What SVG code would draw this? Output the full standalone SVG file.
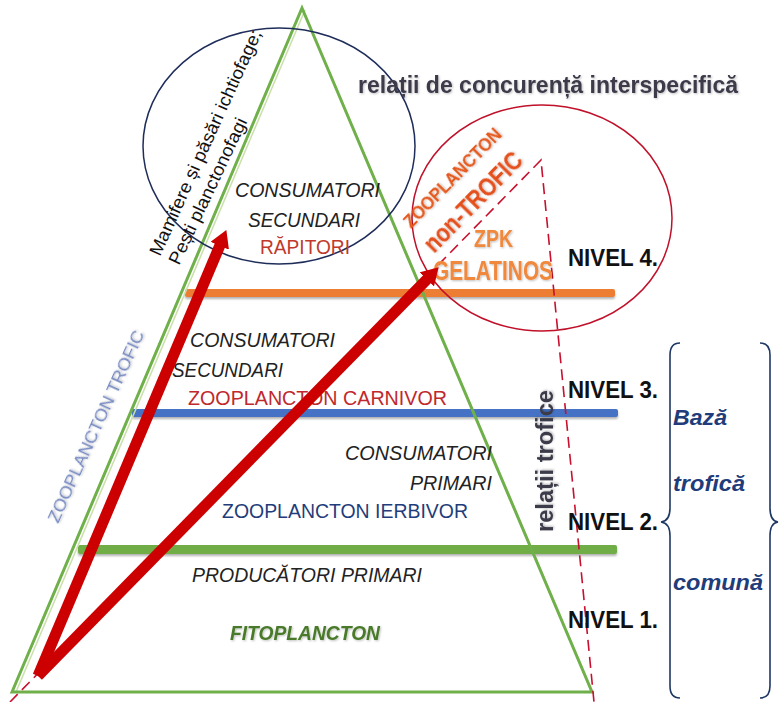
<svg xmlns="http://www.w3.org/2000/svg" width="779" height="702" viewBox="0 0 779 702">
<style>
.t{font-family:"Liberation Sans",Arial,sans-serif}
.it{font-style:italic;fill:#222}
.nv{font-weight:bold;fill:#111;font-size:24px}
.bz{font-weight:bold;font-style:italic;fill:#1f3d7a;font-size:22px}
.bar{filter:url(#sh)}
.arr{stroke:#cc0000;stroke-width:11;fill:none;marker-end:url(#ah)}
</style>
<defs>
<filter id="sh" x="-5%" y="-50%" width="110%" height="250%">
<feDropShadow dx="0" dy="2" stdDeviation="1.2" flood-color="#000" flood-opacity="0.3"/>
</filter>
<filter id="tsh" x="-5%" y="-20%" width="110%" height="150%">
<feDropShadow dx="1" dy="1" stdDeviation="0.8" flood-color="#000" flood-opacity="0.25"/>
</filter>
<marker id="ah" viewBox="0 0 17 20" refX="4" refY="10" markerWidth="17" markerHeight="20" markerUnits="userSpaceOnUse" orient="auto">
<path d="M0,0 L17,10 L0,20 z" fill="#cc0000"/>
</marker>
</defs>
<rect width="779" height="702" fill="#fff"/>

<g id="bars">
<rect class="bar" x="185" y="289" width="430" height="8" rx="2" fill="#ed7d31"/>
<rect class="bar" x="132" y="409" width="486" height="8" rx="2" fill="#4472c4"/>
<rect class="bar" x="78" y="545" width="539" height="9" rx="2" fill="#70ad47"/>
</g>

<g id="pyramid">
<path d="M16,692 L305,10" stroke="#c9e0a8" stroke-width="1.5" fill="none"/>
<path d="M12,692 L302,8 L592,692 Z" stroke="#6fb04a" stroke-width="3" fill="none" stroke-linejoin="miter"/>
</g>

<g id="trophic-dashed">
<path d="M10,702 L541,160 L594,702" stroke="#c8102e" stroke-width="1.6" stroke-dasharray="11,6" fill="none"/>
</g>

<g id="ellipse-predators">
<ellipse cx="279" cy="146" rx="136" ry="118" fill="none" stroke="#1f2d5a" stroke-width="1.5"/>
</g>
<g id="ellipse-gelatinous">
<ellipse cx="542" cy="218" rx="130" ry="113" fill="none" stroke="#c0102a" stroke-width="1.5"/>
</g>

<g id="title" class="t">
<text x="358" y="93" font-size="24" font-weight="bold" fill="#3d3a4a" textLength="380" lengthAdjust="spacingAndGlyphs" filter="url(#tsh)">relații de concurență interspecifică</text>
</g>

<g id="predators-label" class="t" font-size="18" fill="#111">
<text transform="translate(160,257) rotate(-65.5)" textLength="246" lengthAdjust="spacingAndGlyphs">Mamifere și păsări ichtiofage;</text>
<text transform="translate(179,266) rotate(-64.6)" textLength="160" lengthAdjust="spacingAndGlyphs">Pești planctonofagi</text>
</g>

<g id="level4" class="t" font-size="20">
<text class="it" x="235" y="197" textLength="145" lengthAdjust="spacingAndGlyphs">CONSUMATORI</text>
<text class="it" x="248" y="227" textLength="112" lengthAdjust="spacingAndGlyphs">SECUNDARI</text>
<text x="260" y="254" fill="#c0392b" textLength="90" lengthAdjust="spacingAndGlyphs">RĂPITORI</text>
</g>

<g id="zpk" class="t" font-weight="bold">
<text transform="translate(411,229) rotate(-45.5)" font-size="18" fill="#e4581c" textLength="131" lengthAdjust="spacingAndGlyphs" filter="url(#tsh)">ZOOPLANCTON</text>
<text transform="translate(434,254) rotate(-45.5)" font-size="25" fill="#e4501c" textLength="129" lengthAdjust="spacingAndGlyphs" filter="url(#tsh)">non-TROFIC</text>
<text x="474" y="247" font-size="24" fill="#f0883c" textLength="39" lengthAdjust="spacingAndGlyphs" filter="url(#tsh)">ZPK</text>
<text x="433" y="280" font-size="27" fill="#f0883c" textLength="120" lengthAdjust="spacingAndGlyphs" filter="url(#tsh)">GELATINOS</text>
</g>

<g id="level3" class="t" font-size="20">
<text class="it" x="190" y="347" textLength="145" lengthAdjust="spacingAndGlyphs">CONSUMATORI</text>
<text class="it" x="172" y="377" textLength="111" lengthAdjust="spacingAndGlyphs">SECUNDARI</text>
<text x="188" y="405" fill="#c0282d" textLength="259" lengthAdjust="spacingAndGlyphs">ZOOPLANCTON CARNIVOR</text>
</g>

<g id="level2" class="t" font-size="20">
<text class="it" x="345" y="460" textLength="147" lengthAdjust="spacingAndGlyphs">CONSUMATORI</text>
<text class="it" x="410" y="490" textLength="82" lengthAdjust="spacingAndGlyphs">PRIMARI</text>
<text x="222" y="518" fill="#1f3d7a" textLength="246" lengthAdjust="spacingAndGlyphs">ZOOPLANCTON IERBIVOR</text>
</g>

<g id="level1" class="t" font-size="20">
<text class="it" x="192" y="582" textLength="230" lengthAdjust="spacingAndGlyphs">PRODUCĂTORI PRIMARI</text>
<text x="230" y="640" font-weight="bold" font-style="italic" fill="#4a7a2a" textLength="150" lengthAdjust="spacingAndGlyphs" filter="url(#tsh)">FITOPLANCTON</text>
</g>

<g id="zoo-trofic" class="t">
<text transform="translate(58,524) rotate(-65.5)" font-size="17" fill="#7588c0" textLength="209" lengthAdjust="spacingAndGlyphs" filter="url(#tsh)">ZOOPLANCTON  TROFIC</text>
</g>

<g id="relatii-trofice" class="t">
<text transform="translate(553,532) rotate(-90)" font-size="24" font-weight="bold" fill="#3a3a48" textLength="142" lengthAdjust="spacingAndGlyphs" filter="url(#tsh)">relații trofice</text>
</g>

<g id="levels" class="t">
<text class="nv" x="568" y="266" textLength="90" lengthAdjust="spacingAndGlyphs">NIVEL 4.</text>
<text class="nv" x="568" y="398" textLength="90" lengthAdjust="spacingAndGlyphs">NIVEL 3.</text>
<text class="nv" x="568" y="530" textLength="90" lengthAdjust="spacingAndGlyphs">NIVEL 2.</text>
<text class="nv" x="568" y="628" textLength="90" lengthAdjust="spacingAndGlyphs">NIVEL 1.</text>
</g>

<g id="base" class="t">
<path d="M680,343 Q670,343 670,355 L670,508 Q670,521 661,522 Q670,523 670,536 L670,686 Q670,698 680,698" fill="none" stroke="#1f3864" stroke-width="1.6"/>
<path d="M760,343 Q770,343 770,355 L770,508 Q770,521 778,522 Q770,523 770,536 L770,686 Q770,698 760,698" fill="none" stroke="#1f3864" stroke-width="1.6"/>
<text class="bz" x="673" y="425" textLength="54" lengthAdjust="spacingAndGlyphs">Bază</text>
<text class="bz" x="673" y="491" textLength="72" lengthAdjust="spacingAndGlyphs">trofică</text>
<text class="bz" x="673" y="590" textLength="90" lengthAdjust="spacingAndGlyphs">comună</text>
</g>

<g id="connectors">
<line class="arr" x1="38" y1="676" x2="221.3" y2="242.1"/>
<line class="arr" x1="38" y1="676" x2="429.6" y2="276.6"/>
</g>
</svg>
